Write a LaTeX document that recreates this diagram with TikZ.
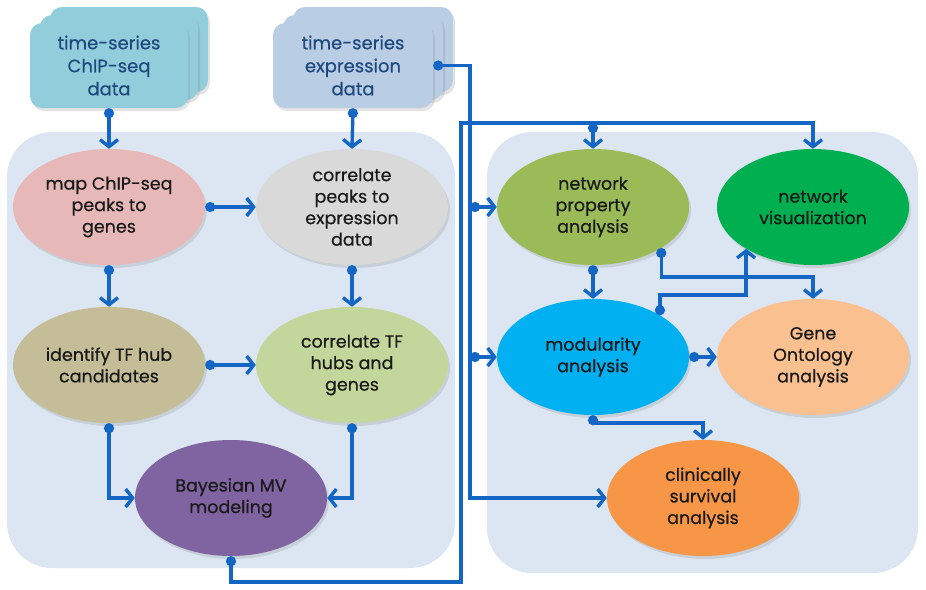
\documentclass[tikz,border=0pt]{standalone}
\usepackage{fontspec}
\setmainfont{Poppins}[FakeBold=0.5]
\usetikzlibrary{shapes.geometric,arrows.meta,shadows}
\definecolor{panelc}{HTML}{DCE6F2}
\definecolor{chipc}{HTML}{92CDDC}
\definecolor{exprc}{HTML}{B9CDE5}
\definecolor{stacktext}{HTML}{1F497D}
\definecolor{linec}{HTML}{1466C4}
\definecolor{mapc}{HTML}{E6B9B8}
\definecolor{corc}{HTML}{D9D9D9}
\definecolor{idc}{HTML}{C4BD97}
\definecolor{ctfc}{HTML}{C3D69B}
\definecolor{bayc}{HTML}{8064A2}
\definecolor{npc}{HTML}{9BBB59}
\definecolor{nvc}{HTML}{00B050}
\definecolor{modc}{HTML}{00B0F0}
\definecolor{goc}{HTML}{FAC090}
\definecolor{clc}{HTML}{F79646}
\begin{document}
\begin{tikzpicture}[x=1pt,y=-1pt,
  panelbox/.style={fill=panelc, rounded corners=45pt},
  ell/.style={ellipse, minimum width=192pt, minimum height=116pt, inner sep=0pt,
    align=center, font=\fontsize{17.5}{21.5}\selectfont, text=black!90,
    drop shadow={opacity=0.22, shadow xshift=2pt, shadow yshift=-3pt}},
  stackbox/.style={rectangle, rounded corners=12pt, minimum width=158pt, minimum height=85pt,
    inner sep=0pt, align=center, font=\fontsize{18}{23}\selectfont, text=stacktext,
    drop shadow={opacity=0.22, shadow xshift=2pt, shadow yshift=-3pt}},
  conn/.style={draw=linec, line width=3.4pt,
    {Circle[length=10pt]}-{Straight Barb[length=7pt,width=18pt]}},
]
\useasboundingbox (0,0) rectangle (926,589);
% panels
\path[panelbox] (7,132) rectangle (455,568);
\path[panelbox] (487,132) rectangle (918,573);
% stacks
\node[stackbox, fill=chipc] (chipb) at (129,49.5) {};
\node[stackbox, fill=chipc] (chipm) at (119,57.5) {};
\node[stackbox, fill=chipc] (chip) at (109,65.5) {time-series\\ChIP-seq\\data};
\node[stackbox, fill=exprc, minimum width=160pt] (exprb) at (373,49.5) {};
\node[stackbox, fill=exprc, minimum width=160pt] (exprm) at (363,57.5) {};
\node[stackbox, fill=exprc, minimum width=160pt] (expr) at (353,65.5) {time-series\\expression\\data};
% left ellipses
\node[ell, fill=mapc] (map) at (109,207) {map ChIP-seq\\peaks to\\genes};
\node[ell, fill=corc] (cor) at (352,207) {correlate\\peaks to\\expression\\data};
\node[ell, fill=idc] (idf) at (109,365) {identify TF hub\\candidates};
\node[ell, fill=ctfc] (ctf) at (352,365) {correlate TF\\hubs and\\genes};
\node[ell, fill=bayc] (bay) at (231,498) {Bayesian MV\\modeling};
% right ellipses
\node[ell, fill=npc] (np) at (593,207) {network\\property\\analysis};
\node[ell, fill=nvc] (nv) at (813,207) {network\\visualization};
\node[ell, fill=modc] (mod) at (593,357) {modularity\\analysis};
\node[ell, fill=goc] (go) at (813,357) {Gene\\Ontology\\analysis};
\node[ell, fill=clc] (cl) at (703,498) {clinically\\survival\\analysis};
% helper coordinates
\coordinate (b1) at (461,582);
\coordinate (b2) at (461,123);
\coordinate (j1) at (np.north |- b2);
\coordinate (e2) at (470,498);
\coordinate (k1) at (go.north |- 0,277);
\coordinate (k2) at (nv.212 |- 0,295);
\coordinate (k3) at (cl.north |- 0,423);
% left connectors
\path[conn] (chip.south) -- (map.north);
\path[conn] (expr.south) -- (cor.north);
\path[conn] (map.east) -- (cor.west);
\path[conn] (map.south) -- (idf.north);
\path[conn] (cor.south) -- (ctf.north);
\path[conn] (idf.east) -- (ctf.west);
\path[conn] (idf.south) |- (bay.west);
\path[conn] (ctf.south) |- (bay.east);
% long connectors
\path[conn] (bay.south) |- (b1) -- (b2) -| (nv.north);
\path[conn] (j1) -- (np.north);
\path[conn] (expr.east) -| (e2) -- (cl.west);
\path[conn] (np.west -| e2) -- (np.west);
\path[conn] (mod.west -| e2) -- (mod.west);
% right connectors
\path[conn] (np.south) -- (mod.north);
\path[conn] (np.-31) |- (k1) -- (go.north);
\path[conn] (mod.32) |- (k2) -- (nv.212);
\path[conn] (mod.east) -- (go.west);
\path[conn] (mod.south) |- (k3) -- (cl.north);
\end{tikzpicture}
\end{document}
